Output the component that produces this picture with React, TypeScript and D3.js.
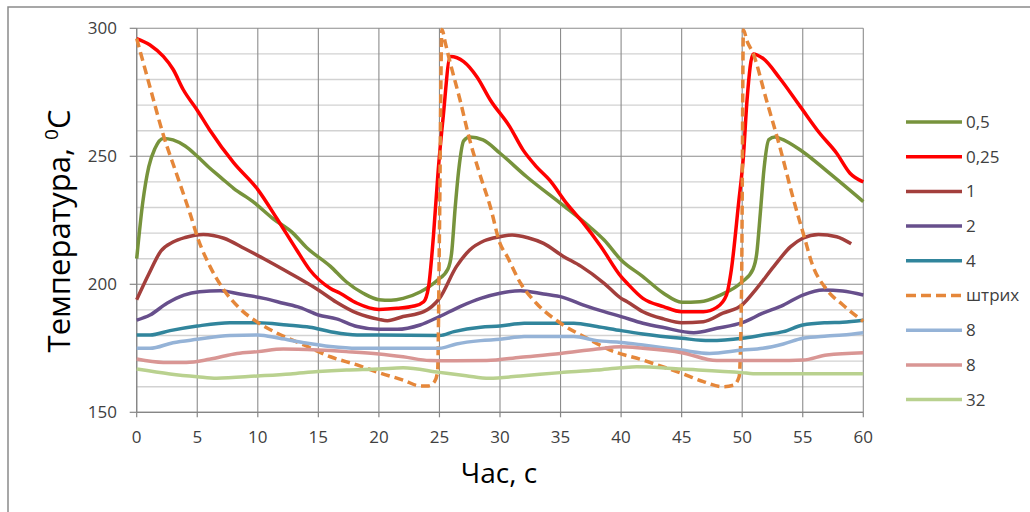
import React from 'react';
import * as d3 from 'd3';

const W = 1030;
const H = 512;

const xTicks = [0, 5, 10, 15, 20, 25, 30, 35, 40, 45, 50, 55, 60];
const yTicks = [150, 200, 250, 300];
const yMinor = [160, 170, 180, 190, 210, 220, 230, 240, 260, 270, 280, 290];

// series "0,5"
const t05 = [0, 0.5, 1, 1.5, 2.2, 3, 4, 5, 6, 7, 8, 9.6, 11.3, 12.9, 14, 16, 17.3, 18.7, 20, 21, 22, 23.4, 24.8, 25.7, 26.0, 26.3, 26.6, 27.0, 27.5, 28.6, 30, 32.2, 35, 37.4, 38.6, 40, 41.8, 43.5, 45, 46.5, 48.2, 50, 50.9, 51.2, 51.5, 51.8, 52.2, 52.7, 53.1, 55, 57.2, 60];
const v05 = [210, 232, 246, 253, 257, 256.4, 254, 250, 245.5, 241.5, 237.5, 232.3, 225.5, 220, 214.5, 207, 201, 196.5, 194, 193.8, 194.5, 197, 201.5, 206, 212, 230, 245, 256, 257.5, 256.4, 251.2, 242, 231.6, 222.5, 217.3, 209.5, 203, 196.5, 193, 193.2, 195.8, 201, 206, 212, 228, 245, 256.5, 257.5, 257, 251.8, 243.4, 232.3];

// series "0,25"
const t025 = [0, 1.1, 2.2, 3, 3.85, 5, 6, 8, 10, 11.6, 13.2, 14.3, 16, 16.8, 18.2, 20, 21.5, 22.9, 23.7, 24.1, 24.5, 24.9, 25.3, 25.9, 27, 28.1, 29.2, 30.8, 31.9, 33, 34.1, 35.5, 36.9, 38.3, 40, 40.5, 41.8, 43.5, 45, 46.8, 47.9, 48.7, 49.1, 49.7, 50.1, 50.4, 50.9, 51.7, 53.1, 54.8, 56.4, 57.8, 58.9, 60];
const v025 = [296, 293.5, 289, 284, 276, 268, 260.5, 247.5, 237, 225.5, 213.5, 205.6, 198.4, 196.5, 192.6, 190.2, 190.6, 191.5, 193.2, 199, 218.6, 244.7, 265, 289, 287, 281, 272, 261.6, 252.5, 246, 240.7, 231.6, 223.8, 215, 203, 200.4, 194.5, 191.3, 189.3, 189.3, 191, 195.8, 205.6, 231.6, 250, 272, 290, 288.3, 280.5, 269.4, 259, 251.2, 243.4, 240];

// series "1"
const t1 = [0, 1, 2, 3, 4, 5.5, 7.2, 8.9, 10.5, 12.4, 15, 16.5, 18.2, 20, 20.7, 22, 23.7, 25, 26.4, 27.5, 28.7, 30, 31, 32.3, 33.6, 35.2, 36.7, 38.6, 40, 40.5, 41.8, 43.5, 45, 46.8, 48.4, 50, 51.2, 52.6, 54, 55, 56.3, 57.8, 59];
const v1 = [194, 204, 213, 216.5, 218.3, 219.5, 218, 214, 210, 205, 197.8, 193, 188.7, 186.3, 185.8, 187.4, 189.3, 194.5, 206.9, 213.4, 217, 218.6, 219.3, 218.2, 216, 211, 207, 200.4, 194.5, 193.2, 189.3, 186.5, 185, 185.4, 188.7, 192, 198.4, 206.9, 214.7, 218, 219.5, 218.6, 215.8];

// series "2"
const t2 = [0, 1.1, 2.5, 3.9, 5.2, 6.9, 8.5, 10.5, 12.1, 13.5, 15, 16.5, 18.2, 20, 21.5, 23.4, 25, 26.7, 28.4, 30, 31.7, 33.6, 35.2, 36.9, 38.6, 40, 41.8, 43.5, 46, 47.9, 50, 51.7, 53.4, 55, 56.7, 58.3, 60];
const v2 = [186, 188, 192.6, 195.8, 197.1, 197.5, 196.2, 194.5, 192.6, 190.9, 188, 186.5, 183.5, 182.4, 182.4, 184.1, 187.4, 191.3, 194.5, 196.5, 197.5, 196.2, 194.9, 191.9, 189.3, 187.4, 184.8, 183.1, 181.1, 182.8, 185, 188.7, 191.9, 195.8, 197.8, 197.4, 195.8];

// series "4"
const t4 = [0, 1.1, 2.75, 5, 7.7, 10, 12.4, 14.3, 16, 18.2, 20, 25, 26.2, 28.4, 30, 32, 36.1, 38, 40, 41.8, 45, 47.3, 50, 51.7, 53.4, 55, 57, 58.3, 60];
const v4 = [180.2, 180.2, 181.9, 183.7, 185, 185, 184.1, 183.2, 181.5, 180.2, 180.2, 180, 181.5, 183.2, 183.7, 184.8, 184.8, 183.5, 181.9, 180.6, 178.9, 178, 178.9, 180.2, 181.5, 184.1, 185, 185.2, 186];

// series "штрих"
const tSh = [0, 1.1, 2.2, 3.3, 4.4, 5.1, 6.05, 7.2, 8.5, 9.9, 11.6, 13.8, 16, 18.2, 20, 22, 23.4, 24.1, 24.6, 24.85, 25.0, 25.2, 25.5, 25.9, 26.7, 27.5, 28.3, 29.2, 30, 30.6, 31.7, 33, 35, 37.2, 39.1, 41.8, 45, 46.8, 48.4, 49.3, 49.75, 49.95, 50.1, 50.4, 50.9, 52, 53.1, 54.3, 55.2, 55.7, 57, 58.3, 60];
const vSh = [296, 277, 258.3, 243, 227.7, 217.3, 207, 197.8, 190.6, 185.4, 180.9, 176.3, 171.7, 168.5, 165.5, 162.6, 160.3, 160.3, 162, 166, 220, 299.5, 294, 286.3, 272, 256.4, 243.5, 230.3, 216, 210.8, 200.4, 192.6, 184.8, 178.9, 174.3, 170.4, 165.2, 162, 160, 160.6, 164, 200, 299.3, 295, 290.2, 272, 253.8, 232, 217.3, 209, 197.8, 192, 185.5];

// series "8" (blue)
const t8a = [0, 1.1, 3, 5, 7.7, 10, 11.8, 13.8, 16, 18.2, 20, 25, 26.4, 28.4, 30, 32, 36.1, 38, 40, 41.8, 45, 47.3, 50, 51.7, 53.4, 55, 57, 58.3, 60];
const v8a = [175, 175, 177.2, 178.5, 180, 180.2, 178.9, 177.2, 175.7, 175, 175, 175, 176.7, 178, 178.5, 179.6, 179.6, 178, 177.3, 176.3, 174.3, 173, 174.3, 175, 176.7, 178.9, 179.8, 180.2, 181.1];

// series "8" (pink)
const t8b = [0, 2.2, 4.1, 6, 8.3, 10, 12.1, 15, 17.3, 20, 22, 24.2, 26.2, 28.9, 31.7, 35, 38, 40, 41.8, 45, 47.9, 50, 52.8, 55, 57, 60];
const v8b = [170.8, 169.5, 169.5, 170.7, 173, 173.7, 174.7, 174.3, 173.7, 172.8, 171.7, 170.2, 170.1, 170.2, 171.5, 173, 174.7, 175.6, 175, 173.3, 170.2, 170.2, 170.2, 170.4, 172.4, 173.3];

// series "32"
const t32 = [0, 2.75, 5, 6.6, 10, 12.7, 15, 17.3, 20, 22, 25, 27.2, 29.1, 31.7, 35, 38, 40, 41.3, 45, 50, 50.9, 60];
const v32 = [166.9, 165, 163.9, 163.3, 164.2, 165, 165.9, 166.5, 166.9, 167.4, 165.6, 164.3, 163.3, 164.2, 165.5, 166.5, 167.4, 167.8, 166.9, 165.5, 165.1, 165.1];

const seriesNames = ['0,5', '0,25', '1', '2', '4', 'штрих', '8', '8', '32'];
const seriesColors = ['#77933C', '#FF0000', '#A33F3C', '#674F8C', '#31859C', '#E5873A', '#95B3D7', '#D99694', '#B9D18F'];
const seriesT = [t05, t025, t1, t2, t4, tSh, t8a, t8b, t32];
const seriesV = [v05, v025, v1, v2, v4, vSh, v8a, v8b, v32];
const dashed = [false, false, false, false, false, true, false, false, false];

export default function App() {
  const x = d3.scaleLinear().domain([0, 60]).range([136.7, 863.3]);
  const y = d3.scaleLinear().domain([150, 300]).range([412.3, 28.3]);
  const line = d3
    .line<[number, number]>()
    .x((d) => x(d[0]))
    .y((d) => y(d[1]))
    .curve(d3.curveMonotoneX);

  const font = "'Open Sans', 'Noto Sans', sans-serif";
  const txt = '#404040';
  const legendX1 = 906;
  const legendX2 = 962;
  const legendY0 = 122;
  const legendStep = 34.7;

  return (
    <svg
      width={W}
      height={H}
      style={{ position: 'absolute', left: 0, top: 0, background: '#fff' }}
      fontFamily={font}
    >
      <rect x={0} y={0} width={W} height={H} fill="#fff" />
      <rect x={8} y={7} width={1040} height={540} fill="#fff" stroke="#8a8a8a" strokeWidth={1.5} />
      {/* minor horizontal grid */}
      {yMinor.map((v) => (
        <line key={'m' + v} x1={x(0)} x2={x(60)} y1={y(v)} y2={y(v)} stroke="#d2d2d2" strokeWidth={1.4} />
      ))}
      {/* major horizontal grid */}
      {yTicks.map((v) => (
        <line key={'M' + v} x1={x(0)} x2={x(60)} y1={y(v)} y2={y(v)} stroke="#8c8c8c" strokeWidth={1.1} />
      ))}
      {/* vertical grid */}
      {xTicks.map((t) => (
        <line key={'v' + t} x1={x(t)} x2={x(t)} y1={y(300)} y2={y(150)} stroke="#8c8c8c" strokeWidth={1.1} />
      ))}
      {/* axes */}
      <line x1={x(0)} x2={x(0)} y1={y(300)} y2={y(150)} stroke="#868686" strokeWidth={1.2} />
      <line x1={x(0)} x2={x(60)} y1={y(150)} y2={y(150)} stroke="#868686" strokeWidth={1.2} />
      {yTicks.map((v) => (
        <g key={'yt' + v}>
          <line x1={x(0) - 7} x2={x(0)} y1={y(v)} y2={y(v)} stroke="#868686" strokeWidth={1.2} />
          <text x={117} y={y(v)} dy="0.35em" textAnchor="end" fontSize={17} fill={txt}>
            {v}
          </text>
        </g>
      ))}
      {xTicks.map((t) => (
        <g key={'xt' + t}>
          <line x1={x(t)} x2={x(t)} y1={y(150)} y2={y(150) + 5} stroke="#868686" strokeWidth={1.2} />
          <text x={x(t)} y={437} dy="0.35em" textAnchor="middle" fontSize={17} fill={txt}>
            {t}
          </text>
        </g>
      ))}
      {/* series */}
      {seriesNames.map((name, i) => {
        const pts: [number, number][] = seriesT[i].map((t, j) => [t, seriesV[i][j]]);
        return (
          <path
            key={'s' + i}
            d={line(pts) || ''}
            fill="none"
            stroke={seriesColors[i]}
            strokeWidth={3.5}
            strokeLinejoin="round"
            strokeDasharray={dashed[i] ? '9,5' : undefined}
          />
        );
      })}
      {/* axis titles */}
      <text x={499} y={483} textAnchor="middle" fontSize={28} fill="#000">
        Час, с
      </text>
      <text transform="translate(70,231) rotate(-90)" textAnchor="middle" fontSize={31} fill="#000">
        Температура,{' '}
        <tspan fontSize={19} dy={-12}>
          0
        </tspan>
        <tspan dy={12}>C</tspan>
      </text>
      {/* legend */}
      {seriesNames.map((name, i) => {
        const ly = legendY0 + i * legendStep;
        return (
          <g key={'l' + i}>
            <line
              x1={legendX1}
              x2={legendX2}
              y1={ly}
              y2={ly}
              stroke={seriesColors[i]}
              strokeWidth={3.5}
              strokeDasharray={dashed[i] ? '10,5' : undefined}
            />
            <text x={966} y={ly} dy="0.35em" fontSize={17} fill={txt}>
              {name}
            </text>
          </g>
        );
      })}
    </svg>
  );
}
